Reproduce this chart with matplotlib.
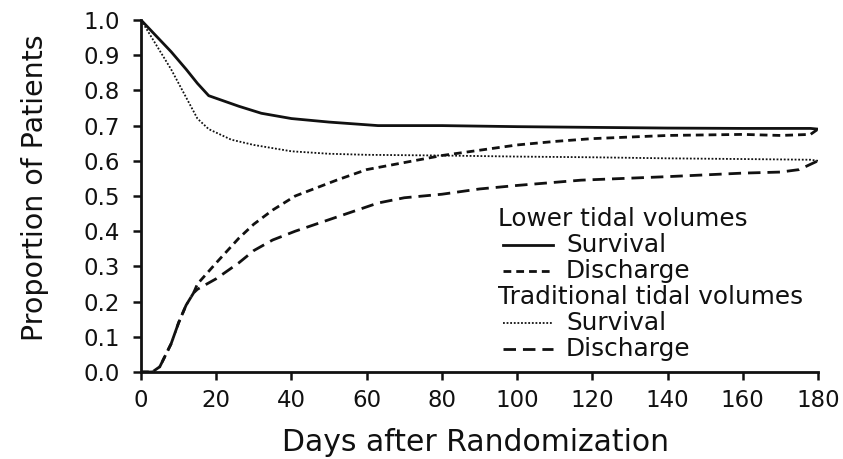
import matplotlib
matplotlib.use("Agg")
import matplotlib.pyplot as plt

# ---- Data ----
days_ls = [0, 4, 8, 12, 15, 18, 22, 26, 32, 40, 50, 63, 80, 100, 120, 140, 160, 178, 180]
lower_survival = [1.0, 0.955, 0.91, 0.86, 0.82, 0.785, 0.77, 0.755, 0.735, 0.72, 0.71, 0.70, 0.70, 0.697, 0.695, 0.693, 0.692, 0.692, 0.69]

days_ts = [0, 4, 8, 12, 15, 18, 24, 30, 40, 50, 60, 80, 100, 120, 140, 160, 178, 180]
trad_survival = [1.0, 0.93, 0.86, 0.78, 0.72, 0.69, 0.66, 0.645, 0.627, 0.62, 0.617, 0.615, 0.612, 0.61, 0.607, 0.605, 0.603, 0.60]

days_ld = [0, 3, 5, 8, 10, 12, 14, 15, 20, 26, 30, 35, 41, 52, 60, 70, 80, 90, 100, 110, 120, 140, 160, 170, 178, 180]
lower_discharge = [0.0, 0.0, 0.015, 0.08, 0.14, 0.19, 0.225, 0.25, 0.31, 0.38, 0.42, 0.46, 0.50, 0.545, 0.575, 0.595, 0.615, 0.63, 0.645, 0.655, 0.663, 0.672, 0.675, 0.672, 0.675, 0.69]

days_td = [0, 3, 5, 8, 10, 12, 14, 15, 20, 26, 30, 35, 41, 52, 63, 70, 80, 90, 100, 117, 140, 160, 170, 175, 180]
trad_discharge = [0.0, 0.0, 0.015, 0.08, 0.14, 0.19, 0.225, 0.235, 0.265, 0.31, 0.345, 0.375, 0.40, 0.44, 0.48, 0.495, 0.505, 0.52, 0.53, 0.545, 0.555, 0.565, 0.568, 0.575, 0.60]

x_ticks = list(range(0, 181, 20))
y_ticks = [i / 10 for i in range(0, 11)]

legend_headers = ["Lower tidal volumes", "Traditional tidal volumes"]
legend_labels = ["Survival", "Discharge"]

# ---- Styles ----
C = '#111111'
STYLE_LS = dict(color=C, lw=2.0, linestyle='-')
STYLE_LD = dict(color=C, lw=2.0, linestyle=(0, (2.8, 1.8)))
STYLE_TS = dict(color=C, lw=1.3, linestyle=(0, (1, 1)))
STYLE_TD = dict(color=C, lw=2.0, linestyle=(0, (4.5, 2.5)))

plt.rcParams['font.family'] = ['DejaVu Sans']

fig = plt.figure(figsize=(8.43, 4.59), dpi=100)
ax = fig.add_axes([141 / 843, 1 - 372 / 459, 677 / 843, 352 / 459])

ax.plot(days_ls, lower_survival, **STYLE_LS)
ax.plot(days_ts, trad_survival, **STYLE_TS)
ax.plot(days_ld, lower_discharge, **STYLE_LD)
ax.plot(days_td, trad_discharge, **STYLE_TD)

ax.set_xlim(0, 180)
ax.set_ylim(0, 1.0)
ax.set_xticks(x_ticks)
ax.set_yticks(y_ticks)
ax.set_yticklabels([f"{v:.1f}" for v in y_ticks])
ax.spines['top'].set_visible(False)
ax.spines['right'].set_visible(False)
for s in ('left', 'bottom'):
    ax.spines[s].set_linewidth(2.0)
    ax.spines[s].set_color(C)
ax.tick_params(direction='out', length=6, width=1.8, labelsize=16.5, colors=C)
ax.tick_params(axis='y', pad=9)
ax.tick_params(axis='x', pad=6)
ax.set_xlabel("Days after Randomization", fontsize=21.5, color=C)
ax.set_ylabel("Proportion of Patients", fontsize=20.5, color=C)
ax.xaxis.set_label_coords((476 - 141) / 677, (372 - 428) / 352)
ax.yaxis.set_label_coords((49 - 141) / 677, (372 - 188) / 352)

# ---- Legend drawn in axes-fraction coordinates ----
def fx(px):
    return (px - 141) / 677

def fy(py):
    return (372 - py) / 352

rows = [
    (legend_headers[0], None, 219),
    (legend_labels[0], STYLE_LS, 245),
    (legend_labels[1], STYLE_LD, 271),
    (legend_headers[1], None, 297),
    (legend_labels[0], STYLE_TS, 323),
    (legend_labels[1], STYLE_TD, 349),
]
for label, style, py in rows:
    if style is None:
        ax.text(fx(498), fy(py), label, transform=ax.transAxes, fontsize=17.8,
                va='center', ha='left', color=C)
    else:
        ax.plot([fx(503), fx(553)], [fy(py), fy(py)], transform=ax.transAxes,
                clip_on=False, **style)
        ax.text(fx(566), fy(py), label, transform=ax.transAxes, fontsize=17.8,
                va='center', ha='left', color=C)

fig.savefig("out.png", dpi=100)
